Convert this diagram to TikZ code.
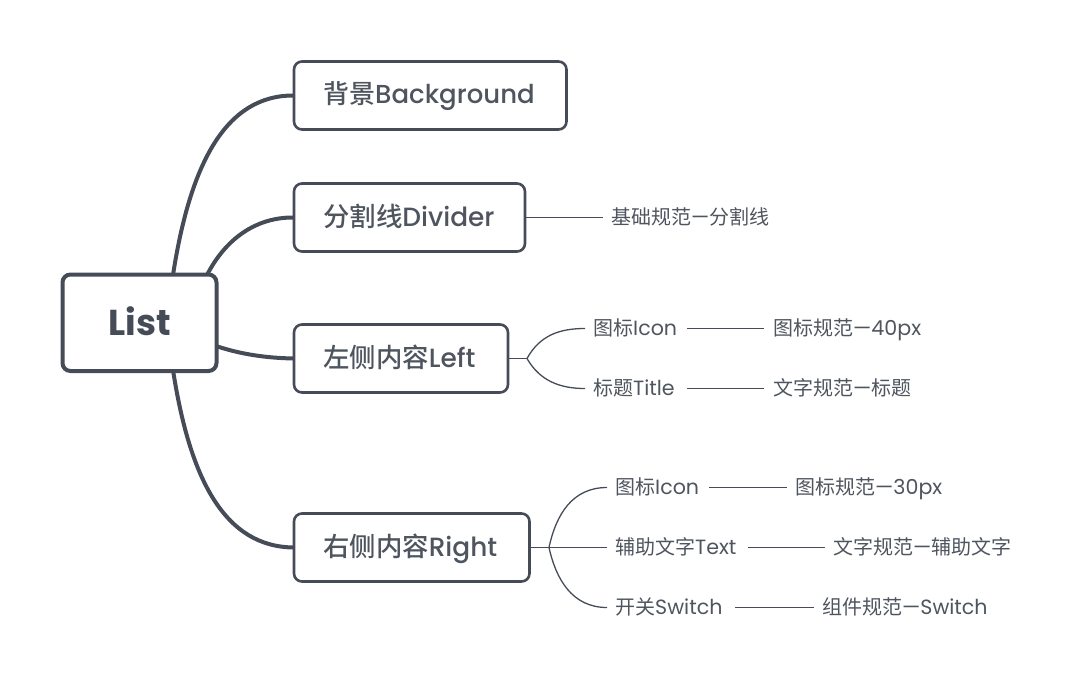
\documentclass[tikz,border=0pt]{standalone}
\usepackage{fontspec}
\setmainfont{Poppins}
\newfontfamily\zhfont{Noto Sans CJK SC}
\newfontfamily\zhmed{Noto Sans CJK SC Medium}
\newfontfamily\latmed{Poppins Medium}
\newfontfamily\latbold{Poppins}[UprightFont=* Bold]
\newcommand{\zh}[1]{{\fontsize{20}{24}\selectfont\zhfont #1}}
\newcommand{\zm}[1]{{\zhmed #1}}
\definecolor{ink}{HTML}{454C57}
\definecolor{txt}{HTML}{4F555F}
\tikzset{
  x=1pt,y=-1pt,
  rootbox/.style={draw=ink,line width=4pt,outer sep=0pt,rounded corners=8pt,fill=white,minimum width=154pt,minimum height=96.5pt,inner sep=0pt,anchor=north west,font=\fontsize{36}{40}\selectfont\latbold,text=ink},
  mainbox/.style={draw=ink,line width=2.6pt,outer sep=0pt,rounded corners=8pt,fill=white,minimum height=68pt,inner sep=0pt,anchor=north west},
  maintext/.style={inner sep=0pt,anchor=base west,text=txt,font=\fontsize{26.4}{30}\selectfont\latmed},
  lab/.style={inner sep=0pt,anchor=west,text=txt,align=left,text height=17pt,text depth=3pt,font=\fontsize{20.6}{24}\selectfont},
  trunk/.style={draw=ink,line width=4pt},
  twig/.style={draw=ink,line width=1.3pt}
}
\begin{document}
\begin{tikzpicture}
\useasboundingbox (0,0) rectangle (1080,691);
\coordinate (t1) at (173,275);
\coordinate (t2) at (207,275);
\coordinate (t3) at (216,346);
\coordinate (t4) at (173,370);
\node[mainbox,minimum width=272.5pt] (bg) at (294,61.5) {};
\node[mainbox,minimum width=231pt] (dv) at (294,183.5) {};
\node[mainbox,minimum width=214pt] (lf) at (294,324.5) {};
\node[mainbox,minimum width=235.5pt] (rt) at (294,513.5) {};
\node[rootbox] (list) at (62.5,274.5) {\raisebox{3pt}{List}};
\draw[trunk] (t1) .. controls (190,165) and (225,95) .. (bg.west);
\draw[trunk] (t2) .. controls (225,240) and (255,217) .. (dv.west);
\draw[trunk] (t3) .. controls (240,354) and (265,358) .. (lf.west);
\draw[trunk] (t4) .. controls (190,480) and (225,547) .. (rt.west);
\node[maintext,font=\fontsize{26}{30}\selectfont\latmed] (bgt) at (323,103.5) {\zm{背景}Background};
\node[maintext] (dvt) at (323,226.3) {\zm{分割线}Divider};
\node[maintext] (lft) at (323,367.3) {\zm{左侧内容}Left};
\node[maintext] (rtt) at (323,556.3) {\zm{右侧内容}Right};
\node[lab,text width=200pt] (d1) at (611,217.5) {\zh{基础规范}—\zh{分割线}};
\draw[twig] (dv.east) -- ([xshift=-8pt]d1.west);
\coordinate (lj) at (527,358.5);
\node[lab,text width=84pt] (l1) at (593,328.5) {\zh{图标}Icon};
\node[lab,text width=84pt] (l2) at (593,388.5) {\zh{标题}Title};
\node[lab,text width=200pt] (l3) at (773,328.5) {\zh{图标规范}—40px};
\node[lab,text width=200pt] (l4) at (773,388.5) {\zh{文字规范}—\zh{标题}};
\draw[twig] (lf.east) -- (lj);
\draw[twig] (lj) .. controls (540,335) and (560,328.5) .. ([xshift=-8pt]l1.west);
\draw[twig] (lj) .. controls (540,381) and (560,388.5) .. ([xshift=-8pt]l2.west);
\draw[twig] ([xshift=10pt]l1.east) -- ([xshift=-9pt]l3.west);
\draw[twig] ([xshift=10pt]l2.east) -- ([xshift=-9pt]l4.west);
\coordinate (rj) at (549,547.5);
\node[lab,text width=84pt] (r1) at (615,487.5) {\zh{图标}Icon};
\node[lab,text width=123pt] (r2) at (615,547.5) {\zh{辅助文字}Text};
\node[lab,text width=110pt] (r3) at (615,607.5) {\zh{开关}Switch};
\node[lab,text width=200pt] (r4) at (795,487.5) {\zh{图标规范}—30px};
\node[lab,text width=200pt] (r5) at (833,547.5) {\zh{文字规范}—\zh{辅助文字}};
\node[lab,text width=200pt] (r6) at (822,607.5) {\zh{组件规范}—Switch};
\draw[twig] (rt.east) -- ([xshift=-8pt]r2.west);
\draw[twig] (rj) .. controls (556,515) and (572,487.5) .. ([xshift=-8pt]r1.west);
\draw[twig] (rj) .. controls (556,579) and (572,607.5) .. ([xshift=-8pt]r3.west);
\draw[twig] ([xshift=10pt]r1.east) -- ([xshift=-8pt]r4.west);
\draw[twig] ([xshift=10pt]r2.east) -- ([xshift=-8pt]r5.west);
\draw[twig] ([xshift=10pt]r3.east) -- ([xshift=-8pt]r6.west);
\end{tikzpicture}
\end{document}
